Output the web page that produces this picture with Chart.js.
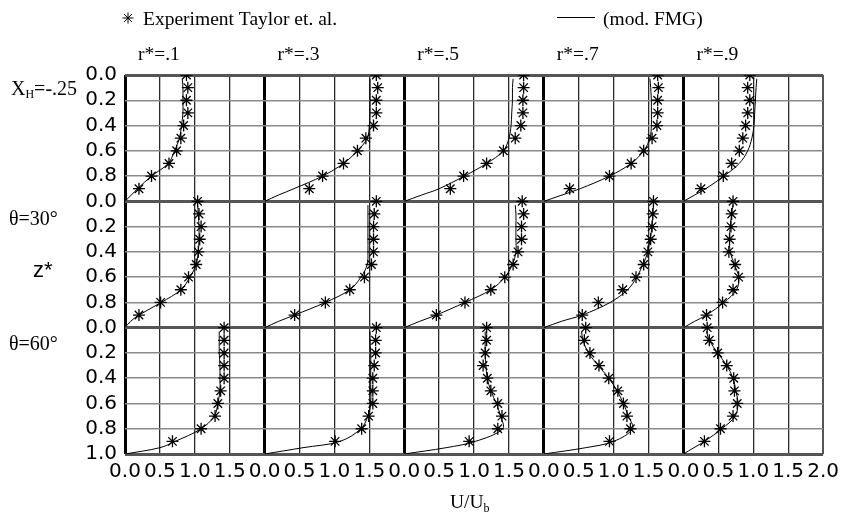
<!DOCTYPE html>
<html>
<head>
<meta charset="utf-8">
<script src="https://cdn.jsdelivr.net/npm/chart.js@4"></script>
<style>
  body { margin: 0; background: #fff; }
</style>
</head>
<body>
<canvas id="profiles-canvas" width="845" height="520"></canvas>
<script>
// column / row headings
const colLabels = ['r*=.1', 'r*=.3', 'r*=.5', 'r*=.7', 'r*=.9'];
const rowLabels = ['X_H=-.25', 'θ=30°', 'θ=60°'];

// z* levels of the measured points and of the model curve
const zStar = [0.0, 0.1, 0.2, 0.3, 0.4, 0.5, 0.6, 0.7, 0.8, 0.9];
const zLine = [0.03, 0.1, 0.2, 0.3, 0.4, 0.5, 0.6, 0.7, 0.8, 0.9, 0.95, 1.0];

// Experiment Taylor et. al. (U/Ub), one list per r*
const expXh = [
    [0.88, 0.90, 0.88, 0.90, 0.84, 0.80, 0.74, 0.63, 0.38, 0.20],
    [1.60, 1.62, 1.60, 1.60, 1.56, 1.45, 1.33, 1.13, 0.83, 0.64],
    [1.71, 1.71, 1.70, 1.70, 1.67, 1.59, 1.42, 1.18, 0.85, 0.66],
    [1.63, 1.64, 1.63, 1.63, 1.62, 1.55, 1.43, 1.25, 0.94, 0.37],
    [0.95, 0.92, 0.95, 0.92, 0.89, 0.85, 0.80, 0.69, 0.57, 0.25]
];
const exp30 = [
    [1.04, 1.06, 1.09, 1.07, 1.05, 1.02, 0.91, 0.80, 0.51, 0.20],
    [1.60, 1.57, 1.56, 1.56, 1.56, 1.53, 1.43, 1.22, 0.87, 0.43],
    [1.69, 1.71, 1.68, 1.68, 1.63, 1.56, 1.44, 1.24, 0.87, 0.46],
    [1.57, 1.56, 1.55, 1.53, 1.49, 1.43, 1.32, 1.13, 0.78, 0.55],
    [0.71, 0.69, 0.68, 0.66, 0.65, 0.74, 0.79, 0.71, 0.56, 0.33]
];
const exp60 = [
    [1.42, 1.42, 1.42, 1.42, 1.42, 1.37, 1.33, 1.29, 1.09, 0.68],
    [1.60, 1.59, 1.59, 1.57, 1.55, 1.55, 1.55, 1.49, 1.39, 1.01],
    [1.18, 1.18, 1.16, 1.13, 1.19, 1.24, 1.34, 1.40, 1.34, 0.93],
    [0.60, 0.58, 0.66, 0.79, 0.93, 1.06, 1.14, 1.19, 1.24, 0.94],
    [0.34, 0.37, 0.49, 0.62, 0.72, 0.73, 0.77, 0.71, 0.53, 0.30]
];

// (mod. FMG) model curves (U/Ub) at zLine
const fmgXh = [
    [0.82, 0.83, 0.83, 0.83, 0.81, 0.78, 0.71, 0.62, 0.38, 0.18, 0.09, 0],
    [1.51, 1.51, 1.51, 1.51, 1.50, 1.47, 1.33, 1.13, 0.83, 0.42, 0.20, 0],
    [1.56, 1.55, 1.55, 1.54, 1.53, 1.50, 1.42, 1.18, 0.86, 0.50, 0.25, 0],
    [1.52, 1.53, 1.54, 1.54, 1.54, 1.52, 1.43, 1.25, 0.94, 0.52, 0.26, 0],
    [1.05, 1.04, 1.03, 1.02, 1.01, 0.98, 0.92, 0.80, 0.58, 0.32, 0.16, 0]
];
const fmg30 = [
    [1.04, 1.05, 1.06, 1.06, 1.05, 1.02, 0.93, 0.80, 0.52, 0.20, 0.08, 0],
    [1.48, 1.48, 1.48, 1.48, 1.48, 1.47, 1.38, 1.22, 0.87, 0.43, 0.20, 0],
    [1.59, 1.60, 1.60, 1.60, 1.60, 1.55, 1.44, 1.24, 0.87, 0.46, 0.22, 0],
    [1.57, 1.56, 1.55, 1.52, 1.49, 1.42, 1.33, 1.20, 0.95, 0.55, 0.25, 0],
    [0.71, 0.69, 0.67, 0.66, 0.67, 0.73, 0.79, 0.76, 0.58, 0.33, 0.16, 0]
];
const fmg60 = [
    [1.35, 1.35, 1.35, 1.36, 1.36, 1.36, 1.33, 1.28, 1.09, 0.72, 0.50, 0],
    [1.51, 1.51, 1.52, 1.52, 1.52, 1.52, 1.52, 1.48, 1.38, 1.08, 0.55, 0],
    [1.16, 1.16, 1.16, 1.17, 1.19, 1.24, 1.32, 1.38, 1.41, 1.02, 0.60, 0],
    [0.54, 0.56, 0.64, 0.78, 0.93, 1.05, 1.14, 1.21, 1.27, 1.00, 0.60, 0],
    [0.33, 0.37, 0.49, 0.62, 0.71, 0.75, 0.78, 0.74, 0.55, 0.30, 0.15, 0]
];

const expRows = [expXh, exp30, exp60];
const fmgRows = [fmgXh, fmg30, fmg60];
const panelWidth = 2.0;   // U/Ub range of one panel
const panelHeight = 1.0;  // z* range of one panel

// every panel is placed on one shared x/y scale: panel (r, c) is shifted by c*2 and r*1
const datasets = [];
for (let r = 0; r < expRows.length; r++) {
    for (let c = 0; c < colLabels.length; c++) {
        datasets.push({
            label: '(mod. FMG)',
            data: zLine.map((z, i) => ({ x: c * panelWidth + fmgRows[r][c][i], y: r * panelHeight + z })),
            showLine: true,
            pointRadius: 0,
            borderColor: '#000',
            borderWidth: 1,
            tension: 0.35
        });
        datasets.push({
            label: 'Experiment Taylor et. al.',
            data: zStar.map((z, i) => ({ x: c * panelWidth + expRows[r][c][i], y: r * panelHeight + z })),
            showLine: false,
            pointStyle: 'star',
            pointRadius: 6,
            borderColor: '#000',
            backgroundColor: '#000',
            pointBorderWidth: 1.3
        });
    }
}

const serif = '"Liberation Serif", "Times New Roman", serif';
const sans = '"Liberation Sans", Arial, sans-serif';

// headings, row labels, legend and axis title
const textPlugin = {
    id: 'panelText',
    afterDraw(chart) {
        const ctx = chart.ctx;
        const xs = chart.scales.x;
        const ys = chart.scales.y;
        ctx.save();
        ctx.fillStyle = '#000';
        ctx.textBaseline = 'alphabetic';
        ctx.textAlign = 'left';

        // legend
        Chart.helpers.drawPoint(ctx, { pointStyle: 'star', radius: 5.5, borderWidth: 1.2 }, 128, 18);
        ctx.strokeStyle = '#000';
        ctx.font = '19.5px ' + serif;
        ctx.fillText('Experiment Taylor et. al.', 143, 25);
        ctx.beginPath();
        ctx.lineWidth = 1;
        ctx.moveTo(557, 17.5);
        ctx.lineTo(595, 17.5);
        ctx.stroke();
        ctx.fillText('(mod. FMG)', 603, 25);

        // column headings
        colLabels.forEach((t, c) => {
            ctx.fillText(t, xs.getPixelForValue(c * panelWidth) + 13, 60);
        });

        // row headings
        ctx.font = '20px ' + serif;
        let y = ys.getPixelForValue(0.16);
        ctx.fillText('X', 11, y);
        let w = ctx.measureText('X').width;
        ctx.font = '12px ' + serif;
        ctx.fillText('H', 11 + w, y + 3);
        const wh = ctx.measureText('H').width;
        ctx.font = '20px ' + serif;
        ctx.fillText('=-.25', 11 + w + wh, y);
        ctx.fillText(rowLabels[1], 9, ys.getPixelForValue(1.19));
        ctx.fillText(rowLabels[2], 9, ys.getPixelForValue(2.18));
        ctx.font = '22px ' + sans;
        ctx.fillText('z*', 33, ys.getPixelForValue(1.6));

        // x axis title
        ctx.font = '19.5px ' + serif;
        const tx = 450, ty = 508;
        ctx.fillText('U/U', tx, ty);
        w = ctx.measureText('U/U').width;
        ctx.font = '12px ' + serif;
        ctx.fillText('b', tx + w, ty + 4);
        ctx.restore();
    }
};

const ctx = document.getElementById('profiles-canvas');
const chart = new Chart(ctx, {
    type: 'scatter',
    data: { datasets: datasets },
    options: {
        responsive: false,
        animation: false,
        devicePixelRatio: 1,
        layout: { padding: { top: 75, right: 19, left: 0, bottom: 0 } },
        plugins: {
            legend: { display: false },
            tooltip: { enabled: false }
        },
        scales: {
            x: {
                type: 'linear',
                min: 0,
                max: colLabels.length * panelWidth,
                afterFit(scale) { scale.height = 66; },
                border: { display: false },
                grid: {
                    drawTicks: false,
                    color(c) {
                        if (!c.tick) return '#333';
                        const v = Math.round(c.tick.value * 2) / 2;
                        if (v === 10) return '#555';
                        return v % 2 === 0 ? '#000' : '#2a2a2a';
                    },
                    lineWidth(c) {
                        if (!c.tick) return 1;
                        const v = Math.round(c.tick.value * 2) / 2;
                        if (v === 10) return 2;
                        return v % 2 === 0 ? 3 : 1.3;
                    }
                },
                ticks: {
                    stepSize: 0.5,
                    autoSkip: false,
                    maxRotation: 0,
                    padding: 6,
                    color: '#000',
                    font: { family: '"DejaVu Sans", sans-serif', size: 20 },
                    callback(value) {
                        const v = Math.round(value * 2) / 2;
                        if (v === 10) return '2.0';
                        return (v % 2).toFixed(1);
                    }
                }
            },
            y: {
                type: 'linear',
                reverse: true,
                min: 0,
                max: expRows.length * panelHeight,
                afterFit(scale) { scale.width = 125; },
                border: { display: false },
                grid: {
                    drawTicks: false,
                    color(c) {
                        if (!c.tick) return '#888';
                        const v = Math.round(c.tick.value * 5) / 5;
                        return Math.abs(v - Math.round(v)) < 1e-6 ? '#555' : '#8a8a8a';
                    },
                    lineWidth(c) {
                        if (!c.tick) return 1;
                        const v = Math.round(c.tick.value * 5) / 5;
                        return Math.abs(v - Math.round(v)) < 1e-6 ? 3 : 1.5;
                    }
                },
                ticks: {
                    stepSize: 0.2,
                    autoSkip: false,
                    padding: 8,
                    color: '#000',
                    font: { family: '"DejaVu Sans", sans-serif', size: 20 },
                    callback(value) {
                        const v = Math.round(value * 5) / 5;
                        if (v === 3) return '1.0';
                        const frac = Math.round((v - Math.floor(v + 1e-6)) * 10) / 10;
                        return frac.toFixed(1);
                    }
                }
            }
        }
    },
    plugins: [textPlugin]
});
</script>
</body>
</html>
